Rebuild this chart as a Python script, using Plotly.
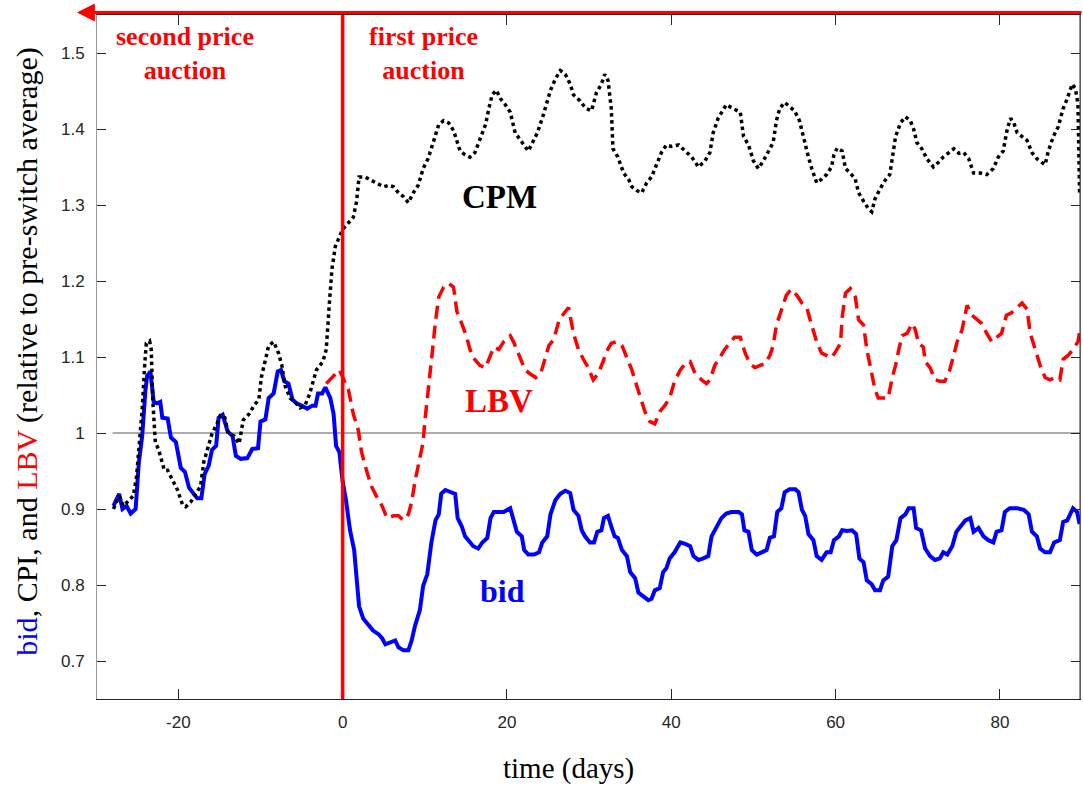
import plotly.graph_objects as go

# ---------------- data ----------------
bid_x = [-27.9, -27.2, -26.8, -26.3, -25.8, -25.2, -24.8, -24.4, -24.0, -23.8, -23.4, -23.0, -22.6, -22.2,
         -21.95, -21.3, -20.9, -20.3, -19.7, -19.2, -18.7, -18.1, -17.7, -17.2, -16.8, -16.3, -15.9, -15.4,
         -15.1, -14.6, -14.0, -13.4, -13.0, -12.4, -11.6, -11.0, -10.3, -10.0, -9.4, -9.0, -8.4, -7.9, -7.5,
         -7.1, -6.6, -6.1, -5.6, -5.0, -4.3, -3.7, -3.3, -3.0, -2.5, -2.1, -1.5, -1.1, -0.8, -0.4, 0.0,
         0.4, 0.9, 1.4, 1.7, 2.0, 2.5, 3.1, 3.7, 4.4, 4.8, 5.2, 5.8, 6.4, 6.8, 7.4, 8.0, 8.4, 8.8, 9.4, 9.8,
         10.3, 10.8, 11.3, 11.7, 12.0, 12.5, 13.1, 13.7, 14.0, 14.5, 14.9, 15.3, 15.9, 16.5, 17.0, 17.6, 18.0,
         18.4, 19.0, 19.6, 20.4, 20.8, 21.2, 21.8, 22.1, 22.6, 23.3, 23.9, 24.3, 24.9, 25.3, 25.9, 26.5, 27.1,
         27.7, 28.1, 28.7, 29.1, 29.5, 30.1, 30.6, 31.0, 31.5, 31.8, 32.3, 32.7, 33.1, 33.5, 34.0, 34.6, 35.0,
         35.6, 36.0, 36.6, 37.2, 37.6, 38.0, 38.6, 39.0, 39.4, 39.8, 40.4, 41.1, 41.7, 42.3, 42.7, 43.3, 43.9,
         44.5, 44.9, 45.5, 46.1, 46.7, 47.3, 48.2, 48.6, 48.9, 49.4, 49.8, 50.4, 51.0, 51.6, 52.0, 52.5, 52.9,
         53.4, 53.8, 54.4, 55.1, 55.5, 55.9, 56.3, 56.7, 57.3, 57.7, 58.3, 58.9, 59.4, 59.8, 60.4, 60.8, 61.4,
         62.0, 62.5, 62.9, 63.4, 63.8, 64.4, 64.8, 65.4, 65.8, 66.4, 66.9, 67.4, 67.9, 68.5, 68.9, 69.5, 69.8,
         70.4, 70.9, 71.5, 72.1, 72.7, 73.1, 73.6, 74.2, 74.7, 75.2, 75.8, 76.4, 76.8, 77.4, 78.0, 78.6, 79.2,
         79.6, 80.2, 80.6, 81.2, 82.1, 82.9, 83.5, 83.9, 84.5, 84.9, 85.5, 86.1, 86.6, 87.3, 87.7, 88.2, 88.9,
         89.4, 89.7]
bid_y = [0.904, 0.92, 0.90, 0.904, 0.894, 0.90, 0.962, 0.996, 1.057, 1.075, 1.081, 1.041, 1.039, 1.041,
         1.02, 1.019, 0.994, 0.988, 0.954, 0.949, 0.928, 0.92, 0.914, 0.914, 0.946, 0.957, 0.978, 0.983,
         1.02, 1.024, 1.002, 0.996, 0.97, 0.966, 0.967, 0.979, 0.98, 1.015, 1.018, 1.046, 1.052, 1.081, 1.083,
         1.068, 1.065, 1.044, 1.039, 1.036, 1.032, 1.036, 1.036, 1.052, 1.052, 1.06, 1.046, 1.025, 0.983, 0.975, 0.936,
         0.912, 0.872, 0.846, 0.809, 0.772, 0.756, 0.748, 0.74, 0.735, 0.73, 0.722, 0.724, 0.727, 0.718, 0.714, 0.714,
         0.727, 0.746, 0.767, 0.799, 0.814, 0.856, 0.885, 0.893, 0.92, 0.925, 0.922, 0.92, 0.888, 0.877, 0.864,
         0.859, 0.851, 0.848, 0.856, 0.862, 0.888, 0.896, 0.896, 0.896, 0.901, 0.883, 0.87, 0.864, 0.846, 0.84,
         0.84, 0.843, 0.856, 0.864, 0.893, 0.912, 0.92, 0.924, 0.921, 0.899, 0.891, 0.872, 0.864, 0.856, 0.856,
         0.87, 0.872, 0.888, 0.891, 0.877, 0.864, 0.862, 0.846, 0.838, 0.817, 0.809, 0.79, 0.785, 0.78, 0.782,
         0.793, 0.796, 0.817, 0.822, 0.835, 0.843, 0.856, 0.854, 0.851, 0.838, 0.833, 0.835, 0.838, 0.864,
         0.875, 0.888, 0.894, 0.896, 0.896, 0.893, 0.872, 0.87, 0.846, 0.84, 0.843, 0.846, 0.862, 0.864, 0.896,
         0.901, 0.922, 0.926, 0.926, 0.922, 0.899, 0.891, 0.867, 0.859, 0.838, 0.833, 0.843, 0.843, 0.859,
         0.864, 0.872, 0.871, 0.872, 0.867, 0.835, 0.83, 0.806, 0.801, 0.793, 0.793, 0.806, 0.811, 0.851,
         0.859, 0.888, 0.893, 0.901, 0.901, 0.875, 0.872, 0.848, 0.838, 0.833, 0.835, 0.843, 0.84, 0.851,
         0.87, 0.877, 0.885, 0.888, 0.87, 0.875, 0.864, 0.859, 0.856, 0.87, 0.872, 0.896, 0.901, 0.901,
         0.899, 0.893, 0.87, 0.864, 0.848, 0.843, 0.843, 0.856, 0.859, 0.883, 0.885, 0.901, 0.896, 0.88]

cpm_x = [-27.9, -27.2, -26.7, -26.1, -25.5, -25.1, -24.7, -24.4, -24.1, -23.9, -23.5, -23.3, -23.1, -22.8,
         -22.4, -21.7, -21.3, -20.7, -20.1, -19.5, -19.1, -18.5, -17.9, -17.3, -16.9, -16.5, -15.9, -15.3,
         -14.9, -14.4, -13.9, -13.2, -12.6, -12.1, -11.4, -10.8, -10.2, -9.9, -9.4, -9.0, -8.4, -7.8, -7.4,
         -7.0, -6.4, -5.8, -5.2, -4.6, -4.0, -3.2, -2.4, -2.0, -1.6, -1.3, -0.9, -0.4, 0.0, 0.5, 1.3, 1.7,
         2.0, 2.7, 3.3, 4.1, 5.0, 5.6, 6.2, 6.8, 7.4, 8.0, 8.6, 9.2, 9.8, 10.4, 11.1, 11.7, 12.3, 12.9, 13.5,
         13.9, 14.3, 14.9, 15.5, 16.1, 16.7, 17.4, 17.8, 18.2, 18.7, 19.2, 19.8, 20.4, 21.0, 21.6, 22.2, 22.6,
         23.0, 23.7, 24.3, 24.9, 25.3, 25.9, 26.5, 27.1, 27.7, 28.1, 28.9, 29.6, 30.3, 30.9, 31.5, 31.9, 32.3,
         32.7, 32.9, 33.5, 34.2, 34.8, 35.2, 35.8, 36.4, 37.0, 37.6, 38.2, 38.8, 39.4, 40.0, 40.9, 41.7, 42.5,
         43.3, 44.1, 44.7, 45.1, 45.7, 46.3, 46.7, 47.5, 48.4, 48.8, 49.4, 50.0, 50.6, 51.2, 51.8, 52.4, 52.8,
         53.2, 53.8, 54.4, 55.0, 55.6, 56.1, 56.7, 57.1, 57.7, 58.3, 58.9, 59.5, 59.8, 60.2, 60.8, 61.2, 61.8,
         62.4, 62.8, 63.4, 64.0, 64.4, 64.8, 65.4, 66.0, 66.6, 66.9, 67.3, 67.9, 68.5, 69.1, 69.5, 69.9, 70.5,
         71.1, 71.9, 72.5, 73.1, 73.8, 74.4, 75.0, 75.6, 76.2, 76.8, 77.6, 78.4, 79.2, 79.8, 80.4, 80.9, 81.3,
         81.7, 82.1, 82.7, 83.3, 83.9, 84.5, 85.1, 85.5, 85.9, 86.5, 87.1, 87.7, 88.2, 88.8, 89.2, 89.5, 89.7]
cpm_y = [0.90, 0.917, 0.904, 0.91, 0.917, 0.941, 0.988, 1.031, 1.089, 1.118, 1.121, 1.11, 1.041, 0.988,
         0.978, 0.951, 0.951, 0.938, 0.925, 0.906, 0.903, 0.909, 0.92, 0.93, 0.962, 0.978, 0.999, 1.012,
         1.023, 1.023, 0.999, 0.996, 0.986, 1.017, 1.025, 1.036, 1.044, 1.073, 1.099, 1.115, 1.12, 1.105, 1.089,
         1.062, 1.046, 1.041, 1.033, 1.036, 1.052, 1.083, 1.094, 1.11, 1.173, 1.216, 1.245, 1.258, 1.268, 1.274,
         1.284, 1.305, 1.337, 1.337, 1.334, 1.329, 1.324, 1.326, 1.324, 1.316, 1.311, 1.303, 1.316, 1.326,
         1.348, 1.361, 1.385, 1.406, 1.411, 1.408, 1.398, 1.385, 1.371, 1.366, 1.363, 1.369, 1.387, 1.406,
         1.427, 1.445, 1.451, 1.44, 1.432, 1.422, 1.395, 1.385, 1.377, 1.371, 1.379, 1.395, 1.414, 1.435,
         1.451, 1.466, 1.477, 1.472, 1.459, 1.445, 1.437, 1.427, 1.424, 1.448, 1.459, 1.472, 1.464, 1.427,
         1.374, 1.363, 1.342, 1.334, 1.324, 1.319, 1.316, 1.329, 1.337, 1.353, 1.369, 1.379, 1.377, 1.379,
         1.371, 1.363, 1.35, 1.358, 1.369, 1.395, 1.414, 1.424, 1.432, 1.427, 1.422, 1.39, 1.379, 1.358, 1.348,
         1.358, 1.371, 1.382, 1.411, 1.427, 1.435, 1.429, 1.424, 1.411, 1.387, 1.363, 1.348, 1.329, 1.334,
         1.34, 1.35, 1.366, 1.375, 1.371, 1.348, 1.342, 1.334, 1.316, 1.305, 1.295, 1.291, 1.308, 1.321,
         1.332, 1.34, 1.363, 1.39, 1.408, 1.416, 1.411, 1.4, 1.382, 1.374, 1.361, 1.35, 1.356, 1.363, 1.369,
         1.374, 1.368, 1.369, 1.361, 1.342, 1.342, 1.34, 1.348, 1.363, 1.371, 1.4, 1.414, 1.408, 1.395, 1.39,
         1.385, 1.369, 1.361, 1.356, 1.353, 1.371, 1.39, 1.403, 1.427, 1.44, 1.459, 1.453, 1.432, 1.316]

lbv_x = [-2.0, -1.3, -0.4, 0.7, 1.3, 1.9, 2.3, 2.9, 3.5, 4.1, 4.8, 5.4, 6.2, 6.8, 7.4, 8.0, 8.4, 8.8, 9.4,
         9.8, 10.0, 10.4, 10.9, 11.3, 11.7, 12.3, 12.9, 13.5, 13.9, 14.5, 15.1, 15.5, 15.9, 16.7, 17.4, 17.8,
         18.4, 19.0, 19.6, 20.4, 20.8, 21.6, 22.2, 22.8, 23.5, 24.1, 24.5, 25.1, 25.7, 26.3, 26.9, 27.5, 28.1,
         28.7, 29.3, 29.9, 30.5, 31.1, 31.7, 32.1, 32.7, 33.3, 34.0, 34.6, 35.2, 35.8, 36.4, 36.8, 37.4, 38.0,
         38.6, 39.2, 39.8, 40.4, 41.1, 41.7, 42.3, 42.9, 43.7, 44.3, 44.7, 45.3, 45.9, 46.5, 47.1, 47.7, 48.4,
         49.0, 49.6, 50.2, 50.8, 51.4, 52.0, 52.4, 52.8, 53.4, 54.0, 54.6, 55.3, 55.9, 56.5, 56.9, 57.3, 57.7,
         58.3, 58.9, 59.5, 60.0, 60.6, 60.8, 61.2, 61.8, 62.4, 62.8, 63.4, 63.8, 64.2, 64.8, 65.2, 65.8, 66.4,
         66.9, 67.3, 67.7, 68.1, 68.7, 69.3, 69.7, 70.1, 70.7, 70.9, 71.5, 72.1, 72.7, 73.3, 73.9, 74.8, 75.4,
         76.0, 76.6, 77.2, 77.8, 78.4, 79.0, 79.6, 80.2, 80.8, 81.4, 82.1, 82.7, 83.3, 83.7, 84.3, 84.9, 85.5,
         86.1, 86.7, 87.3, 87.7, 88.3, 88.9, 89.5, 89.8]
lbv_y = [1.065, 1.073, 1.083, 1.057, 1.025, 1.004, 0.975, 0.951, 0.93, 0.917, 0.904, 0.888, 0.891, 0.891,
         0.885, 0.893, 0.909, 0.936, 0.965, 0.988, 1.015, 1.052, 1.105, 1.147, 1.179, 1.192, 1.197, 1.192,
         1.16, 1.144, 1.126, 1.11, 1.099, 1.089, 1.086, 1.097, 1.113, 1.11, 1.12, 1.128, 1.12, 1.099, 1.083,
         1.078, 1.073, 1.078, 1.094, 1.115, 1.123, 1.147, 1.157, 1.165, 1.131, 1.11, 1.097, 1.086, 1.07,
         1.078, 1.094, 1.107, 1.118, 1.12, 1.115, 1.099, 1.083, 1.062, 1.041, 1.028, 1.015, 1.012, 1.028,
         1.036, 1.046, 1.068, 1.083, 1.091, 1.094, 1.078, 1.07, 1.065, 1.07, 1.089, 1.099, 1.11, 1.118, 1.126,
         1.126, 1.105, 1.091, 1.086, 1.089, 1.091, 1.102, 1.115, 1.142, 1.163, 1.181, 1.189, 1.181, 1.171,
         1.165, 1.149, 1.134, 1.12, 1.105, 1.102, 1.099, 1.107, 1.118, 1.152, 1.184, 1.19, 1.179, 1.149,
         1.142, 1.11, 1.089, 1.057, 1.046, 1.046, 1.046, 1.073, 1.089, 1.11, 1.128, 1.131, 1.144, 1.136,
         1.118, 1.113, 1.094, 1.086, 1.07, 1.068, 1.068, 1.083, 1.12, 1.136, 1.168, 1.155, 1.149, 1.144,
         1.131, 1.12, 1.126, 1.131, 1.155, 1.158, 1.165, 1.171, 1.163, 1.131, 1.11, 1.089, 1.073, 1.07,
         1.073, 1.07, 1.097, 1.102, 1.11, 1.12, 1.139]

x_ticks = [-20, 0, 20, 40, 60, 80]
x_ticktext = ["-20", "0", "20", "40", "60", "80"]
y_ticks = [0.7, 0.8, 0.9, 1.0, 1.1, 1.2, 1.3, 1.4, 1.5]
y_ticktext = ["0.7", "0.8", "0.9", "1", "1.1", "1.2", "1.3", "1.4", "1.5"]

SERIF = "Liberation Serif, Times New Roman, serif"
SANS = "Liberation Sans, Arial, sans-serif"
AX = "#262626"

fig = go.Figure()
fig.add_trace(go.Scatter(x=bid_x, y=bid_y, mode="lines", name="bid",
                         line=dict(color="#0000ff", width=4)))
fig.add_trace(go.Scatter(x=cpm_x, y=cpm_y, mode="lines", name="CPM",
                         line=dict(color="#000000", width=3.5, dash="3.5px,3.5px")))
fig.add_trace(go.Scatter(x=lbv_x, y=lbv_y, mode="lines", name="LBV",
                         line=dict(color="#ff0000", width=3.5, dash="13px,7px")))

# reference line at 1 and switch line at 0
fig.add_shape(type="line", xref="x", yref="y", x0=-28, x1=89.75, y0=1, y1=1,
              line=dict(color="#5a5a5a", width=1), layer="below")
fig.add_shape(type="line", xref="x", yref="paper", x0=0, x1=0, y0=0, y1=1,
              line=dict(color="#ff0000", width=3.5))
# right border (dark)
fig.add_shape(type="line", xref="paper", yref="paper", x0=1, x1=1, y0=0, y1=1,
              line=dict(color=AX, width=1))

ann = [
    # arrow on top
    dict(x=-0.0205, y=1.0035, xref="paper", yref="paper", ax=1007, ay=0,
         axref="pixel", ayref="pixel", text="", showarrow=True,
         arrowhead=2, arrowsize=1.2, arrowwidth=3, arrowcolor="#ff0000"),
    dict(x=-19.2, y=1.50, xref="x", yref="y", text="<b>second price</b><br><b>auction</b>",
         showarrow=False, font=dict(family=SERIF, size=26, color="#ff0000"),
         xanchor="center", yanchor="middle"),
    dict(x=9.8, y=1.50, xref="x", yref="y", text="<b>first price</b><br><b>auction</b>",
         showarrow=False, font=dict(family=SERIF, size=26, color="#ff0000"),
         xanchor="center", yanchor="middle"),
    dict(x=19.1, y=1.31, xref="x", yref="y", text="<b>CPM</b>", showarrow=False,
         font=dict(family=SERIF, size=33, color="#000000")),
    dict(x=19.0, y=1.042, xref="x", yref="y", text="<b>LBV</b>", showarrow=False,
         font=dict(family=SERIF, size=33, color="#ff0000")),
    dict(x=19.5, y=0.792, xref="x", yref="y", text="<b>bid</b>", showarrow=False,
         font=dict(family=SERIF, size=32, color="#0000ff")),
    # axis titles
    dict(x=0.4797, y=-0.1023, xref="paper", yref="paper", text="time (days)",
         showarrow=False, font=dict(family=SERIF, size=29, color="#000000"),
         xanchor="center", yanchor="middle"),
    dict(x=-0.0707, y=0.507, xref="paper", yref="paper",
         text="<span style='color:#0000ff'>bid</span>, CPI, and "
              "<span style='color:#ff0000'>LBV</span> (relative to pre-switch average)",
         showarrow=False, textangle=-90, font=dict(family=SERIF, size=30, color="#000000"),
         xanchor="center", yanchor="middle"),
]

fig.update_layout(
    annotations=ann,
    width=1083, height=786,
    margin=dict(l=97, r=3, t=15, b=87),
    paper_bgcolor="white", plot_bgcolor="white",
    showlegend=False,
    xaxis=dict(range=[-29.9, 89.75], tickvals=x_ticks, ticktext=x_ticktext, ticks="inside",
               ticklen=10, tickcolor=AX, tickwidth=1, showline=True, linecolor=AX, linewidth=1,
               mirror="ticks", showgrid=False, zeroline=False,
               tickfont=dict(family=SANS, size=17, color=AX), ticklabelstandoff=8),
    yaxis=dict(range=[0.65, 1.55], tickvals=y_ticks, ticktext=y_ticktext, ticks="inside",
               ticklen=9, tickcolor=AX, tickwidth=1, showline=True, linecolor="#9a9a9a",
               linewidth=1, mirror="ticks", showgrid=False, zeroline=False,
               tickfont=dict(family=SANS, size=17, color=AX), ticklabelstandoff=8),
)

fig.write_html("out.html")
